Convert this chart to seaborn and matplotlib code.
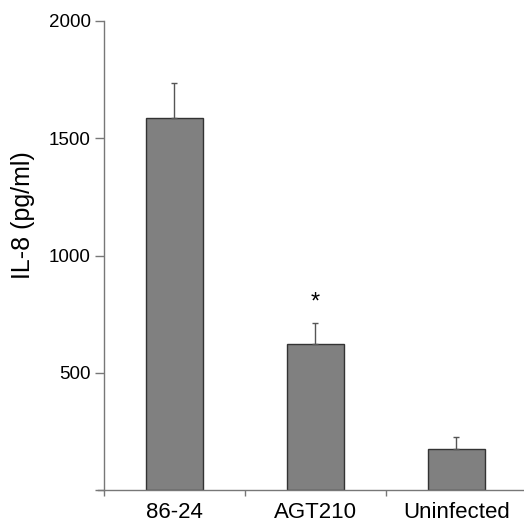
import matplotlib
matplotlib.use("Agg")
import matplotlib.pyplot as plt
import pandas as pd
import seaborn as sns

# values
groups = ["86-24", "AGT210", "Uninfected"]
il8 = [1585, 622, 176]
il8_err = [150, 92, 50]
y_ticks = [0, 500, 1000, 1500, 2000]
y_tick_labels = ["", "500", "1000", "1500", "2000"]

sns.set_style("white")
plt.rcParams["font.family"] = ["Liberation Sans", "DejaVu Sans"]
plt.rcParams["text.color"] = "black"
plt.rcParams["xtick.color"] = "#777777"
plt.rcParams["ytick.color"] = "#777777"
plt.rcParams["xtick.labelcolor"] = "black"
plt.rcParams["ytick.labelcolor"] = "black"
plt.rcParams["axes.labelcolor"] = "black"

df = pd.DataFrame({"group": groups, "il8": il8})

fig = plt.figure(figsize=(5.24, 5.26), dpi=100)
ax = fig.add_axes([0.1985, 0.0675, 0.8015, 0.8935])

sns.barplot(data=df, x="group", y="il8", color="#808080", saturation=1,
            width=0.4, edgecolor="#333333", linewidth=1, ax=ax)
ax.errorbar(range(len(groups)), il8, yerr=[[0] * len(il8), il8_err], fmt="none",
            ecolor="#555555", elinewidth=1, capsize=2.5, capthick=1)

# significance marker
ax.text(1, il8[1] + il8_err[1] + 85, "*", ha="center", va="center", fontsize=17)

ax.set_xlim(-0.5, 2.48)
ax.set_ylim(0, 2000)
ax.set_yticks(y_ticks)
ax.set_yticklabels(y_tick_labels, fontsize=13.5)
ax.set_xticks(range(len(groups)))
ax.set_xticks([-0.5, 0.5, 1.5], minor=True)
ax.set_xticklabels(groups, fontsize=16)
ax.tick_params(axis="x", which="major", length=0, pad=8)
ax.tick_params(axis="x", which="minor", bottom=True, length=4.5, width=1, direction="out")
ax.tick_params(axis="y", left=True, length=6.5, width=1, direction="out", pad=3)
ax.set_xlabel("")
ax.set_ylabel("IL-8 (pg/ml)", fontsize=18)
ax.yaxis.set_label_coords(-0.165, 0.585)

sns.despine(ax=ax)
for s in ["left", "bottom"]:
    ax.spines[s].set_color("#777777")
    ax.spines[s].set_linewidth(1)
ax.spines["bottom"].set_bounds(-0.545, 2.48)

fig.savefig("out.png", dpi=100)
